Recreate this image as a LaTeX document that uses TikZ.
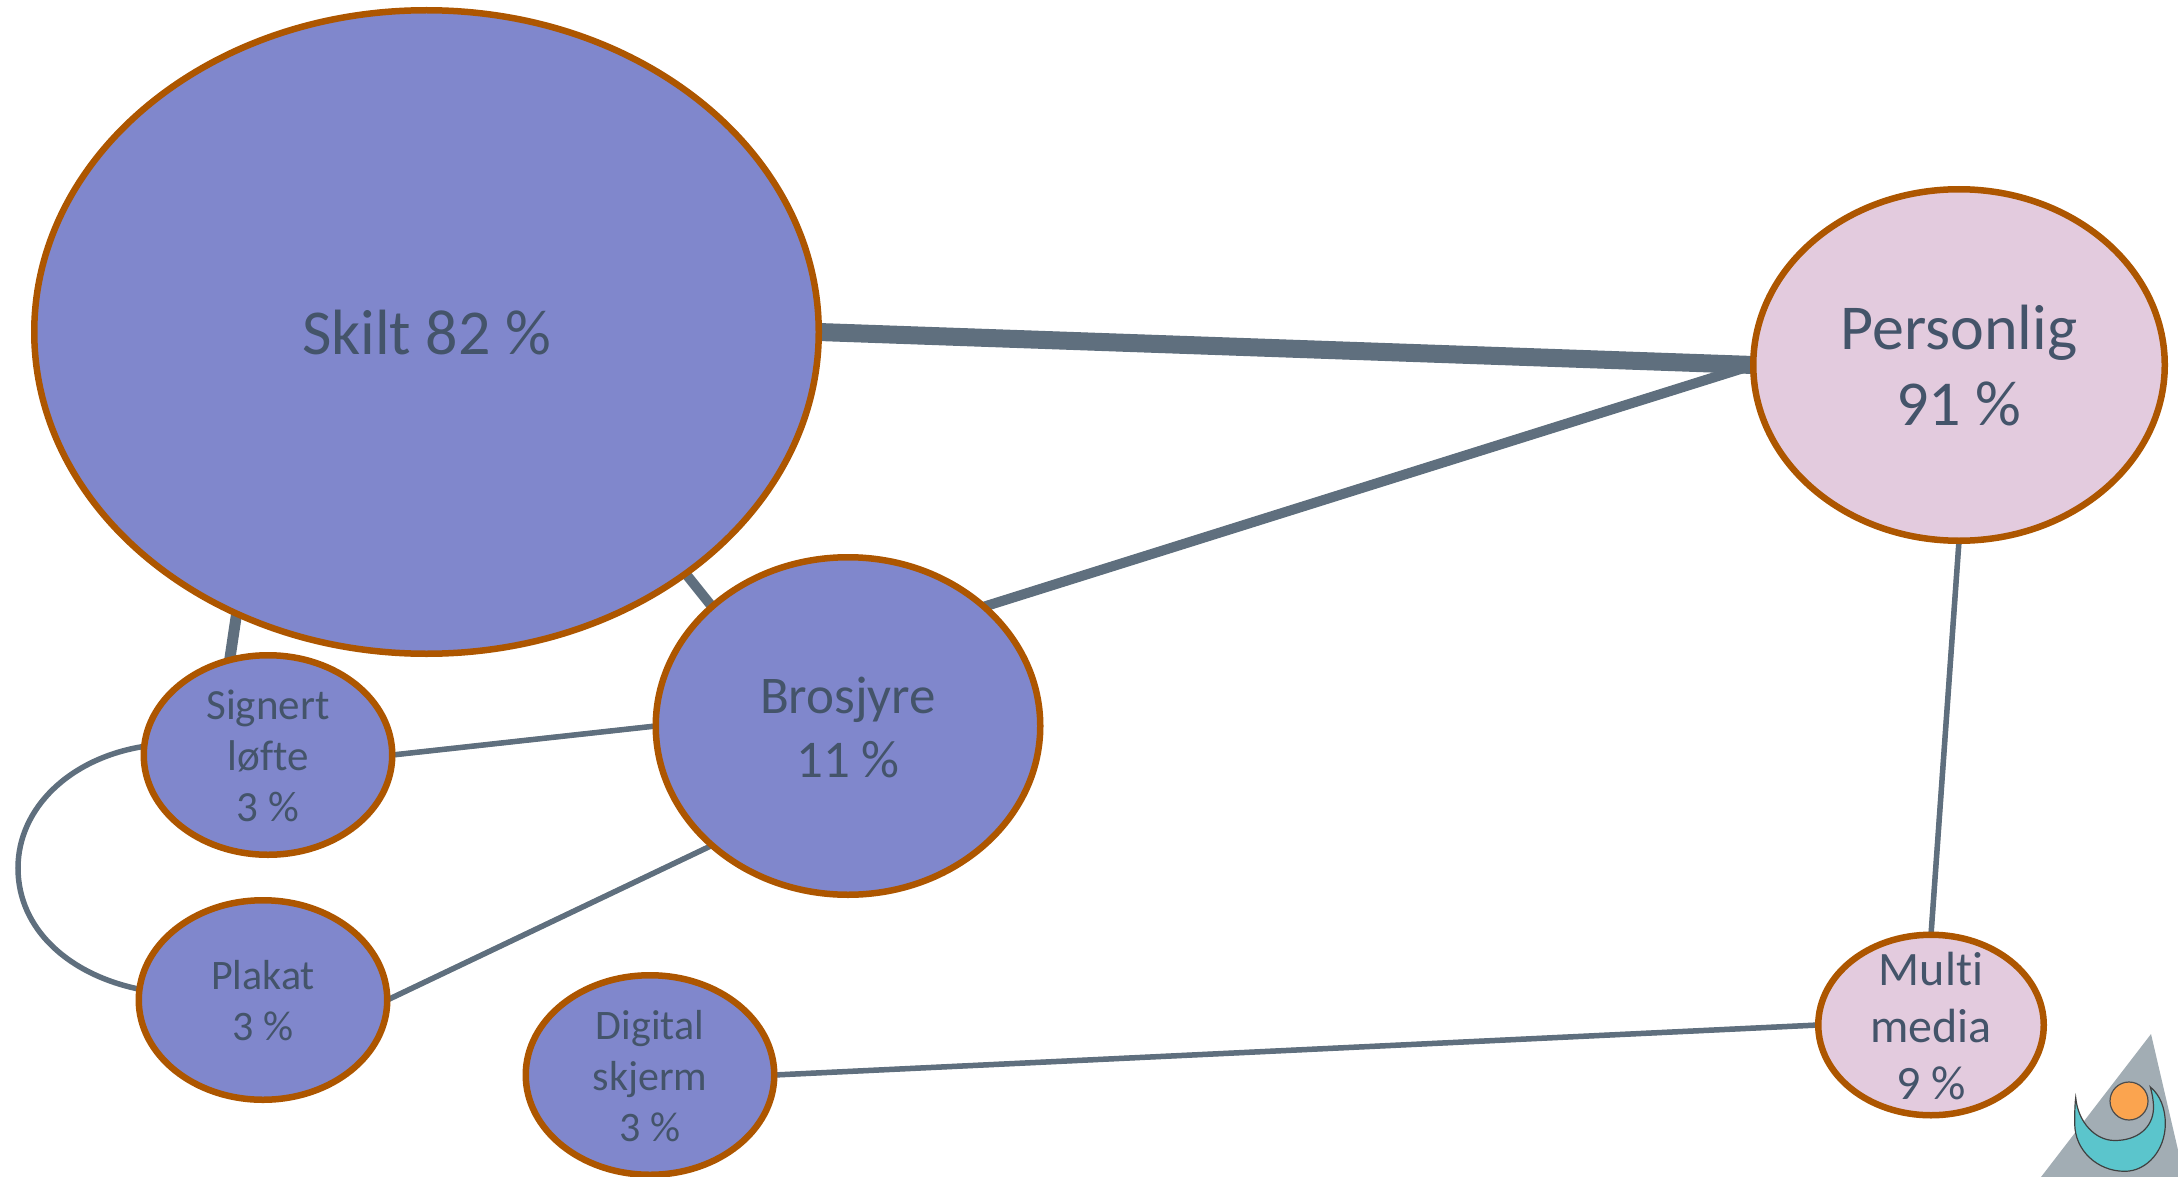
\documentclass[tikz,border=0pt]{standalone}
\usepackage{fontspec}
\setmainfont[Ligatures=NoCommon]{Carlito}
\usetikzlibrary{shapes.geometric,backgrounds}
\definecolor{blu}{HTML}{8087CC}
\definecolor{pnk}{HTML}{E3CBDE}
\definecolor{brd}{HTML}{AD5600}
\definecolor{lin}{HTML}{5F6F7E}
\definecolor{txt}{HTML}{44546A}
\definecolor{logotri}{HTML}{A2ADB4}
\definecolor{logocres}{HTML}{5BC5CC}
\definecolor{logosun}{HTML}{FBA44F}
\tikzset{
  x=1pt,y=-1pt,
  bub/.style={ellipse,draw=brd,line width=6.5pt,inner sep=0pt,outer sep=0pt},
  lab/.style={text=txt,align=center,inner sep=0pt,yshift=-1pt},
  conn/.style={draw=lin},
}
\newcommand{\fs}[2]{\fontsize{#1}{#2}\selectfont}
\begin{document}
\begin{tikzpicture}
\useasboundingbox (0,0) rectangle (2178,1177);
\node[bub,fill=blu,minimum width=784.5pt,minimum height=643.5pt] (skilt) at (426.5,332) {};
\node[lab,font=\fs{64}{76}] (skiltt) at (skilt.center) {Skilt 82 \%};
\node[bub,fill=pnk,minimum width=411.5pt,minimum height=351.5pt] (pers) at (1959,365) {};
\node[lab,font=\fs{64}{76}] (perst) at (pers.center) {Personlig\\91 \%};
\node[bub,fill=blu,minimum width=384.5pt,minimum height=337.5pt] (bros) at (848,726) {};
\node[lab,font=\fs{53}{64}] (brost) at (bros.center) {Brosjyre\\11 \%};
\node[bub,fill=blu,minimum width=248.5pt,minimum height=199.5pt] (sign) at (268,755) {};
\node[lab,font=\fs{43}{51}] (signt) at (sign.center) {Signert\\løfte\\3 \%};
\node[bub,fill=blu,minimum width=248.5pt,minimum height=199.5pt] (plak) at (263,1000) {};
\node[lab,font=\fs{42}{51}] (plakt) at (plak.center) {Plakat\\3 \%};
\node[bub,fill=blu,minimum width=248.5pt,minimum height=199.5pt] (digi) at (650,1075) {};
\node[lab,font=\fs{42}{51}] (digit) at (digi.center) {Digital\\skjerm\\3 \%};
\node[bub,fill=pnk,minimum width=225.5pt,minimum height=180.5pt] (mult) at (1931,1025) {};
\node[lab,font=\fs{48}{57}] (multt) at (mult.center) {Multi\\media\\9 \%};
\coordinate (mid) at (18,868);
\begin{scope}[on background layer]
  \foreach \dy/\a in {6/.06,4/.08,2/.1}{
    \draw[draw=black,opacity=\a,line width=17pt,yshift=-\dy pt] (skilt.east) -- (pers.west);
    \draw[draw=black,opacity=\a,line width=9pt,yshift=-\dy pt] (pers.west) -- (bros.north east);
    \draw[draw=black,opacity=\a,line width=5pt,yshift=-\dy pt] (sign.east) -- (bros.west);
    \draw[draw=black,opacity=\a,line width=5pt,yshift=-\dy pt] (plak.east) -- (bros.south west);
    \draw[draw=black,opacity=\a,line width=5pt,yshift=-\dy pt] (pers.south) -- (mult.north);
    \draw[draw=black,opacity=\a,line width=5pt,yshift=-\dy pt] (digi.east) -- (mult.west);
  }
  \draw[conn,line width=18pt] (skilt.east) -- (pers.west);
  \draw[conn,line width=10pt] (pers.west) -- (bros.north east);
  \draw[conn,line width=10pt] (skilt.-43.3) -- (bros.north west);
  \draw[conn,line width=11pt] (skilt.236.7) -- (sign.112);
  \draw[conn,line width=5.5pt] (sign.east) -- (bros.west);
  \draw[conn,line width=5.5pt] (plak.east) -- (bros.south west);
  \draw[conn,line width=5.5pt] (pers.south) -- (mult.north);
  \draw[conn,line width=5.5pt] (digi.east) -- (mult.west);
  \draw[conn,line width=5.5pt] (sign.176) .. controls (70,758) and (18,808) .. (mid)
     .. controls (18,930) and (70,975) .. (plak.175);
\end{scope}
% logo
\fill[logotri] (2151,1034) -- (2178,1150) -- (2178,1177) -- (2041,1177) -- cycle;
\draw[fill=logosun,draw=black!70,line width=1.2pt] (2129,1101) circle[radius=19];
\draw[fill=logocres,draw=black!75,line width=1.2pt]
  (2075.7,1097.7) .. controls (2078,1122) and (2095,1140.5) .. (2114.7,1140.5)
  .. controls (2137,1140.5) and (2153,1128) .. (2153.5,1108)
  .. controls (2153.5,1100) and (2152,1093) .. (2150.3,1087)
  .. controls (2160,1095) and (2165.3,1108) .. (2165.3,1123.7)
  .. controls (2165.3,1150) and (2147,1171.3) .. (2124.7,1171.3)
  .. controls (2097,1171.3) and (2074.7,1150) .. (2074.7,1123.7)
  .. controls (2074.7,1115) and (2074.7,1105) .. (2075.7,1097.7) -- cycle;
\end{tikzpicture}
\end{document}
